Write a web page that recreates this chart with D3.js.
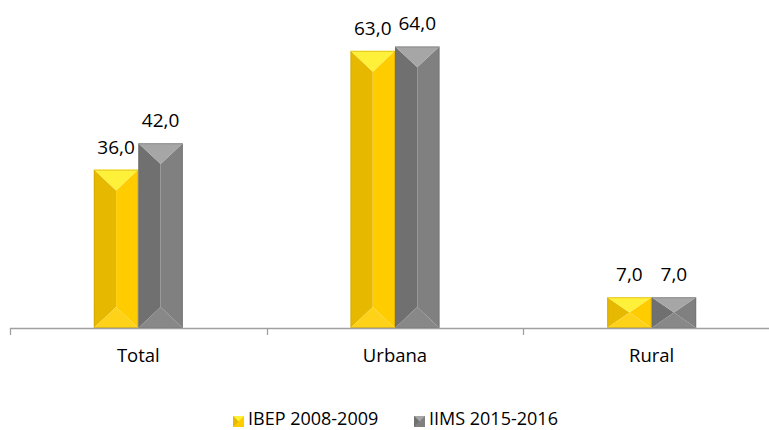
<!DOCTYPE html>
<html><head><meta charset="utf-8">
<script src="https://cdn.jsdelivr.net/npm/d3@7"></script>
<style>body{margin:0;background:#fff}svg{display:block}</style>
</head><body>
<script>
const categories = ["Total", "Urbana", "Rural"];
const seriesNames = ["IBEP 2008-2009", "IIMS 2015-2016"];
const ibep = [36.0, 63.0, 7.0];
const iims = [42.0, 64.0, 7.0];

const W = 769, H = 430;
const svg = d3.select("body").append("svg").attr("width", W).attr("height", H);
const font = "'Open Sans', 'Liberation Sans', sans-serif";

const x0 = d3.scaleBand().domain(categories).range([10, 780]).paddingInner(0);
const x1 = d3.scaleBand().domain(seriesNames).range([0, 89]);
const y = d3.scaleLinear().domain([0, 70]).range([328, 20]);

const pal = [
  {left:"#e6b800", right:"#ffcc00", top:"#fff03a", bottom:"#ffd21a", stroke:"#c9a000"},
  {left:"#707070", right:"#808080", top:"#a6a6a6", bottom:"#888888", stroke:"#6a6a6a"}
];

const data = [];
categories.forEach((c, i) => {
  [ibep, iims].forEach((arr, s) => data.push({cat:c, s, name:seriesNames[s], v:arr[i]}));
});

const g = svg.append("g");
data.forEach(d => {
  const xa = x0(d.cat) + (x0.bandwidth() - 89) / 2 + x1(d.name);
  const xb = xa + x1.bandwidth();
  const xm = (xa + xb) / 2;
  const yt = y(d.v), yb = y(0);
  const dep = Math.min((xb - xa) * 0.47, (yb - yt) / 2);
  const p = pal[d.s];
  const poly = (pts, fill) => g.append("polygon").attr("points", pts.map(q => q.join(",")).join(" ")).attr("fill", fill);
  poly([[xa,yt],[xm,yt+dep],[xm,yb-dep],[xa,yb]], p.left);
  poly([[xb,yt],[xm,yt+dep],[xm,yb-dep],[xb,yb]], p.right);
  poly([[xa,yt],[xb,yt],[xm,yt+dep]], p.top);
  poly([[xa,yb],[xb,yb],[xm,yb-dep]], p.bottom);
  g.append("rect").attr("x", xa + 0.5).attr("y", yt + 0.5).attr("width", xb - xa - 1).attr("height", yb - yt - 1)
    .attr("fill", "none").attr("stroke", p.stroke).attr("stroke-width", 1).attr("opacity", 0.5);
  g.append("text").attr("x", xm).attr("y", yt - 16).attr("text-anchor", "middle")
    .attr("font-family", font).attr("font-size", 19).attr("fill", "#000")
    .text(d3.format(".1f")(d.v).replace(".", ","));
});

// axis
svg.append("line").attr("x1", 10).attr("x2", W).attr("y1", 328.5).attr("y2", 328.5).attr("stroke", "#a0a0a0").attr("stroke-width", 1.3);
const bounds = [10, x0("Urbana"), x0("Rural")];
bounds.forEach(b => svg.append("line").attr("x1", Math.round(b)+0.5).attr("x2", Math.round(b)+0.5).attr("y1", 328).attr("y2", 335).attr("stroke", "#a0a0a0").attr("stroke-width", 1.3));
categories.forEach(c => svg.append("text").attr("x", x0(c) + x0.bandwidth()/2).attr("y", 362).attr("text-anchor", "middle")
  .attr("font-family", font).attr("font-size", 18.5).attr("fill", "#000").text(c));

// legend
const leg = [{x:233, name:seriesNames[0], p:pal[0]}, {x:414, name:seriesNames[1], p:pal[1]}];
leg.forEach(l => {
  const s = 11, yy = 416;
  const m = l.x + s/2;
  svg.append("rect").attr("x", l.x).attr("y", yy).attr("width", s).attr("height", s).attr("fill", l.p.right);
  svg.append("polygon").attr("points", `${l.x},${yy} ${l.x+s},${yy} ${m},${yy+s/2}`).attr("fill", l.p.top);
  svg.append("polygon").attr("points", `${l.x},${yy} ${m},${yy+s/2} ${l.x},${yy+s}`).attr("fill", l.p.left);
  svg.append("text").attr("x", l.x + 15).attr("y", 425).attr("font-family", font).attr("font-size", 18).attr("fill", "#000").text(l.name);
});
</script>
</body></html>
